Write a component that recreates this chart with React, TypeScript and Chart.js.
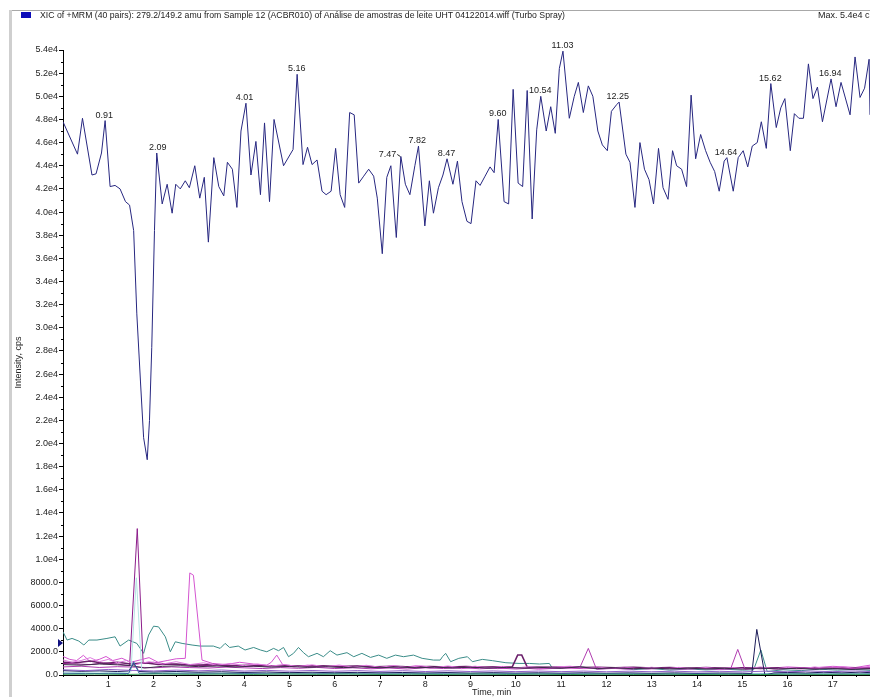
import React, { useEffect, useRef } from 'react';
import { Chart, registerables } from 'chart.js';

Chart.register(...registerables);

const TITLE = 'XIC of +MRM (40 pairs): 279.2/149.2 amu from Sample 12 (ACBR010) of Análise de amostras de leite UHT 04122014.wiff (Turbo Spray)';
const MAX_TEXT = 'Max. 5.4e4 cps.';
const X_TITLE = 'Time, min';
const Y_TITLE = 'Intensity, cps';
const FONT = '"Liberation Sans", Arial, sans-serif';

// [time (min), intensity (cps)]
const mainTrace: [number, number][] = [
  [0.00, 47800], [0.32, 45000], [0.43, 48100], [0.64, 43200], [0.73, 43300], [0.85, 45100], [0.93, 47900],
  [1.04, 42200], [1.15, 42300], [1.26, 42000], [1.38, 40900], [1.47, 40600], [1.56, 38400], [1.63, 31200],
  [1.71, 25400], [1.78, 20500], [1.86, 18600], [1.91, 22000], [1.96, 28300], [2.02, 38400], [2.07, 45100],
  [2.19, 40700], [2.30, 42400], [2.41, 39900], [2.49, 42400], [2.59, 42000], [2.70, 42700], [2.79, 42100],
  [2.91, 44000], [3.02, 41200], [3.12, 43000], [3.21, 37400], [3.33, 44700], [3.44, 42200], [3.55, 41400],
  [3.63, 44300], [3.74, 43700], [3.84, 40400], [3.93, 47000], [4.04, 49400], [4.15, 43200], [4.26, 46100],
  [4.36, 41500], [4.45, 47700], [4.56, 40900], [4.66, 48000], [4.87, 44000], [5.08, 45400], [5.17, 51900],
  [5.30, 44100], [5.40, 45600], [5.50, 44100], [5.61, 44500], [5.72, 41800], [5.81, 41500], [5.92, 41800],
  [6.02, 45500], [6.12, 41500], [6.22, 40400], [6.33, 48600], [6.43, 48400], [6.53, 42500], [6.64, 43100],
  [6.75, 43700], [6.86, 43100], [6.94, 41200], [7.05, 36400], [7.15, 43000], [7.24, 44000], [7.36, 37800],
  [7.46, 44800], [7.56, 42400], [7.66, 41500], [7.77, 44000], [7.85, 45700], [7.99, 38800], [8.09, 42700],
  [8.18, 39900], [8.29, 42100], [8.39, 43200], [8.48, 44600], [8.61, 42400], [8.71, 44400], [8.81, 40900],
  [8.92, 39200], [9.01, 39000], [9.12, 42700], [9.21, 42300], [9.32, 43100], [9.43, 43900], [9.52, 43400],
  [9.61, 48000], [9.74, 40900], [9.84, 40700], [9.94, 50600], [10.05, 42500], [10.15, 42200], [10.25, 50500],
  [10.36, 39400], [10.46, 47100], [10.55, 50000], [10.67, 47000], [10.77, 49100], [10.87, 46800], [10.96, 52400],
  [11.04, 53900], [11.18, 48100], [11.29, 50000], [11.38, 51200], [11.49, 48600], [11.60, 50900], [11.70, 50000],
  [11.81, 47000], [11.91, 45800], [12.02, 45300], [12.11, 48700], [12.23, 49300], [12.28, 49500], [12.43, 45000],
  [12.52, 44300], [12.63, 40400], [12.74, 46000], [12.84, 43700], [12.94, 42800], [13.04, 40700], [13.15, 45500],
  [13.25, 42100], [13.36, 41100], [13.46, 45300], [13.55, 44000], [13.66, 43700], [13.77, 42200], [13.87, 50100],
  [13.97, 44600], [14.08, 46700], [14.19, 45300], [14.29, 44300], [14.39, 43500], [14.49, 41800], [14.60, 44400],
  [14.66, 44700], [14.80, 41800], [14.91, 44700], [15.02, 45300], [15.12, 43900], [15.22, 45700], [15.33, 46000],
  [15.42, 47800], [15.53, 45500], [15.63, 51100], [15.75, 47300], [15.85, 49000], [15.94, 49800], [16.06, 45300],
  [16.15, 48500], [16.25, 48100], [16.35, 48100], [16.46, 52800], [16.56, 49800], [16.66, 50800], [16.77, 47800],
  [16.96, 51500], [17.07, 49100], [17.18, 51200], [17.38, 48400], [17.49, 53400], [17.60, 49900], [17.70, 50700],
  [17.80, 53200], [17.82, 48400],
];

const peakLabels = ['0.91', '2.09', '4.01', '5.16', '7.47', '7.82', '8.47', '9.60', '10.54', '11.03', '12.25', '14.64', '15.62', '16.94'];

const tealTrace: [number, number][] = [
  [0, 3730], [0.09, 3020], [0.2, 3160], [0.35, 2930], [0.46, 2590], [0.57, 3020], [0.75, 3020], [0.97, 3160],
  [1.15, 3300], [1.26, 2500], [1.45, 3020], [1.63, 2730], [1.78, 1870], [1.89, 3450], [2.0, 4220], [2.11, 4160],
  [2.26, 3300], [2.37, 2010], [2.48, 2870], [2.63, 2730], [2.85, 2590], [3.03, 2500], [3.32, 2500], [3.47, 2300],
  [3.58, 2730], [3.68, 2380], [3.87, 2500], [4.02, 2160], [4.21, 2380], [4.36, 2160], [4.5, 2010], [4.65, 2300],
  [4.76, 2100], [4.87, 2380], [4.98, 1580], [5.09, 1870], [5.2, 2380], [5.31, 1930], [5.42, 1580], [5.61, 1870],
  [5.75, 1580], [5.9, 2100], [6.05, 1720], [6.27, 1930], [6.42, 1580], [6.6, 1870], [6.79, 1520], [6.97, 1720],
  [7.15, 1440], [7.34, 1720], [7.52, 1580], [7.74, 1720], [7.93, 1440], [8.18, 1290], [8.33, 1290], [8.38, 1580],
  [8.45, 1870], [8.56, 1150], [8.74, 1440], [8.93, 1580], [9.04, 1150], [9.26, 1350], [9.48, 1240], [9.78, 1060],
  [10.07, 1000], [10.3, 1000], [10.52, 950], [10.74, 1000], [10.81, 570], [11.1, 650], [11.4, 720], [11.8, 520],
  [12.2, 600], [12.6, 460], [13.0, 560], [13.4, 420], [13.8, 520], [14.2, 440], [14.6, 500], [15.0, 420],
  [15.25, 450], [15.41, 2160], [15.55, 300], [15.9, 450], [16.3, 380], [16.7, 500], [17.1, 420], [17.5, 480], [17.82, 400],
];

const purplePeakTrace: [number, number][] = [
  [0, 1000], [0.3, 950], [0.6, 900], [0.9, 1050], [1.2, 950], [1.47, 800], [1.64, 12650], [1.77, 1000],
  [2.0, 1100], [2.3, 950], [2.6, 900], [2.9, 850], [3.3, 800], [3.7, 850], [4.1, 780], [4.5, 820], [5.0, 750],
  [5.5, 800], [6.0, 720], [6.5, 760], [7.0, 700], [7.5, 740], [8.0, 680], [8.5, 720], [9.0, 650], [9.5, 700],
  [10.0, 640], [10.5, 680], [11.0, 620], [11.5, 660], [12.0, 600], [12.5, 640], [13.0, 580], [13.5, 620],
  [14.0, 560], [14.5, 600], [15.0, 580], [15.5, 620], [16.0, 560], [16.5, 600], [17.0, 580], [17.5, 620], [17.82, 600],
];

const pinkTrace: [number, number][] = [
  [0, 1600], [0.15, 1350], [0.3, 1250], [0.45, 1700], [0.6, 1150], [0.8, 1350], [0.95, 1600], [1.1, 1250],
  [1.3, 1450], [1.5, 1100], [1.7, 1300], [1.9, 1500], [2.1, 1100], [2.3, 1250], [2.5, 1400], [2.7, 1440],
  [2.8, 8820], [2.88, 8620], [3.07, 1290], [3.3, 1000], [3.6, 900], [3.9, 1100], [4.2, 950], [4.5, 850],
  [4.6, 1100], [4.72, 1720], [4.85, 900], [5.1, 700], [5.4, 850], [5.7, 650], [6.0, 800], [6.3, 650], [6.6, 750],
  [6.9, 600], [7.2, 750], [7.5, 650], [7.8, 800], [8.1, 600], [8.4, 700], [8.8, 550], [9.2, 700], [9.6, 550],
  [10.0, 650], [10.5, 500], [11.0, 600], [11.5, 550], [12.0, 600], [12.5, 500], [13.0, 650], [13.5, 550],
  [14.0, 600], [14.5, 500], [15.0, 650], [15.5, 550], [16.0, 700], [16.5, 600], [17.0, 750], [17.5, 650], [17.82, 850],
];

const orchidTrace: [number, number][] = [
  [0, 1300], [0.2, 1100], [0.4, 1250], [0.6, 1500], [0.8, 1150], [1.0, 1350], [1.2, 1050], [1.4, 1250],
  [1.6, 900], [1.9, 1150], [2.2, 950], [2.5, 1150], [2.8, 900], [3.1, 1050], [3.4, 850], [3.7, 1000],
  [4.0, 800], [4.3, 950], [4.6, 780], [4.9, 900], [5.2, 720], [5.5, 880], [5.8, 700], [6.1, 860], [6.4, 680],
  [6.7, 840], [7.0, 660], [7.3, 820], [7.6, 650], [7.9, 800], [8.2, 640], [8.5, 780], [8.8, 620], [9.1, 760],
  [9.4, 600], [9.7, 740], [10.0, 600], [10.3, 720], [10.6, 580], [10.9, 700], [11.2, 760], [11.5, 600],
  [11.8, 690], [12.1, 560], [12.4, 680], [12.7, 540], [13.0, 670], [13.3, 520], [13.6, 660], [13.9, 520],
  [14.2, 650], [14.5, 510], [14.8, 640], [15.1, 500], [15.4, 700], [15.7, 520], [16.0, 660], [16.3, 520],
  [16.6, 700], [16.9, 540], [17.2, 720], [17.5, 560], [17.82, 760],
];

const lightCyanTrace: [number, number][] = [
  [0, 250], [0.4, 220], [0.8, 260], [1.2, 210], [1.5, 260], [1.62, 8400], [1.74, 280], [2.1, 200], [2.6, 230],
  [3.2, 180], [3.8, 200], [4.4, 170], [5.0, 190], [6.0, 160], [7.0, 180], [8.0, 150], [9.0, 170], [10.0, 140],
  [11.0, 160], [12.0, 130], [13.0, 150], [14.0, 130], [15.0, 150], [16.0, 130], [17.0, 150], [17.82, 140],
];

const navyTrace: [number, number][] = [
  [0, 380], [0.4, 320], [0.8, 360], [1.2, 300], [1.45, 350], [1.56, 1000], [1.68, 300], [2.0, 260], [2.5, 300],
  [3.0, 240], [3.5, 280], [4.0, 220], [4.5, 260], [5.0, 200], [5.5, 240], [6.0, 190], [6.5, 230], [7.0, 180],
  [7.5, 220], [8.0, 170], [8.5, 210], [9.0, 160], [9.5, 200], [10.0, 160], [10.5, 190], [11.0, 150], [11.5, 190],
  [12.0, 150], [12.5, 180], [13.0, 140], [13.5, 180], [14.0, 140], [14.5, 170], [15.0, 150], [15.21, 120],
  [15.32, 3940], [15.5, 0], [15.7, 180], [16.0, 220], [16.4, 170], [16.8, 240], [17.2, 180], [17.6, 250], [17.82, 200],
];

const steelTrace: [number, number][] = [
  [0, 150], [0.5, 120], [1.0, 140], [1.45, 130], [1.56, 1150], [1.68, 150], [2.2, 120], [3, 100], [4, 120],
  [5, 90], [6, 110], [7, 90], [8, 100], [9, 80], [10, 100], [11, 80], [12, 90], [13, 70], [14, 90], [15, 70],
  [16, 90], [17, 80], [17.82, 90],
];

const magentaTrace: [number, number][] = [
  [0, 700], [0.4, 760], [0.8, 650], [1.2, 720], [1.6, 680], [2.0, 620], [2.4, 700], [2.8, 640], [3.2, 600],
  [3.6, 680], [4.0, 620], [4.4, 560], [4.8, 640], [5.2, 580], [5.6, 660], [6.0, 560], [6.4, 620], [6.8, 540],
  [7.2, 600], [7.6, 520], [8.0, 620], [8.4, 560], [8.8, 640], [9.2, 540], [9.6, 600], [10.0, 520], [10.4, 600],
  [10.8, 560], [11.1, 650], [11.42, 700], [11.6, 2300], [11.78, 500], [12.1, 560], [12.5, 620], [12.9, 520],
  [13.3, 580], [13.7, 500], [14.1, 560], [14.5, 520], [14.74, 500], [14.9, 2210], [15.06, 500], [15.4, 580],
  [15.8, 520], [16.2, 600], [16.6, 540], [17.0, 620], [17.4, 560], [17.82, 640],
];

const darkPurpleTrace: [number, number][] = [
  [0, 1100], [0.3, 1050], [0.6, 1200], [0.9, 1000], [1.2, 1100], [1.5, 950], [1.8, 1050], [2.1, 900], [2.5, 950],
  [2.9, 850], [3.3, 900], [3.7, 800], [4.1, 850], [4.5, 780], [4.9, 820], [5.3, 760], [5.7, 800], [6.1, 740],
  [6.5, 780], [6.9, 720], [7.3, 760], [7.7, 700], [8.1, 740], [8.5, 690], [8.9, 730], [9.3, 680], [9.7, 720],
  [9.92, 700], [10.04, 1720], [10.13, 1720], [10.25, 700], [10.6, 660], [11.0, 700], [11.4, 640], [11.8, 680],
  [12.2, 620], [12.6, 660], [13.0, 600], [13.4, 650], [13.8, 590], [14.2, 640], [14.6, 580], [15.0, 630],
  [15.4, 570], [15.8, 620], [16.2, 560], [16.6, 610], [17.0, 560], [17.4, 600], [17.82, 570],
];

const greenTrace: [number, number][] = [
  [0, 60], [0.7, 80], [1.4, 50], [2.1, 90], [2.8, 60], [3.5, 80], [4.2, 50], [4.9, 90], [5.6, 60], [6.3, 80],
  [7.0, 50], [7.7, 70], [8.4, 50], [9.1, 80], [9.8, 50], [10.5, 70], [11.2, 40], [11.9, 70], [12.6, 50],
  [13.3, 70], [14.0, 40], [14.7, 60], [15.4, 40], [16.1, 70], [16.8, 50], [17.5, 60], [17.82, 50],
];

const violetTrace: [number, number][] = [
  [0, 450], [0.5, 380], [1.0, 480], [1.5, 400], [2.0, 350], [2.5, 420], [3.0, 360], [3.5, 430], [4.0, 340],
  [4.5, 400], [5.0, 330], [5.5, 390], [6.0, 320], [6.5, 380], [7.0, 310], [7.5, 370], [8.0, 300], [8.5, 360],
  [9.0, 300], [9.5, 350], [10.0, 290], [10.5, 340], [11.0, 290], [11.5, 340], [12.0, 280], [12.5, 330],
  [13.0, 280], [13.5, 330], [14.0, 270], [14.5, 320], [15.0, 270], [15.5, 330], [16.0, 280], [16.5, 340],
  [17.0, 290], [17.5, 350], [17.82, 300],
];

const darkGrayTrace: [number, number][] = [
  [0, 900], [0.4, 850], [0.8, 950], [1.2, 880], [1.5, 820], [1.8, 600], [2.2, 750], [2.6, 800], [3.0, 720],
  [3.4, 780], [3.8, 700], [4.2, 760], [4.6, 680], [5.0, 740], [5.4, 660], [5.8, 720], [6.2, 640], [6.6, 700],
  [7.0, 630], [7.4, 690], [7.8, 620], [8.2, 680], [8.6, 610], [9.0, 670], [9.4, 600], [9.8, 660], [10.2, 590],
  [10.6, 650], [11.0, 580], [11.4, 700], [11.8, 560], [12.2, 620], [12.6, 540], [13.0, 600], [13.4, 530],
  [13.8, 590], [14.2, 520], [14.6, 580], [15.0, 510], [15.4, 600], [15.8, 520], [16.2, 580], [16.6, 500],
  [17.0, 560], [17.4, 480], [17.82, 540],
];

const X_MAX = 17.82;
const Y_MAX = 54000;

const toPts = (arr: [number, number][]) => arr.map(([x, y]) => ({ x, y }));

const peakLabelPlugin = {
  id: 'peakLabels',
  afterDatasetsDraw(chart: any) {
    const { ctx, scales } = chart;
    const xs = scales.x;
    const ys = scales.y;
    ctx.save();
    ctx.font = `9px ${FONT}`;
    ctx.fillStyle = '#222';
    ctx.strokeStyle = '#222';
    ctx.lineWidth = 1;
    ctx.textBaseline = 'bottom';
    const items = peakLabels
      .map((lbl) => {
        const t = parseFloat(lbl);
        let best = -Infinity;
        for (const [tx, v] of mainTrace) if (Math.abs(tx - t) <= 0.08 && v > best) best = v;
        return { lbl, px: xs.getPixelForValue(t), py: ys.getPixelForValue(best), w: ctx.measureText(lbl).width, ok: best > -Infinity };
      })
      .filter((it) => it.ok);
    items.forEach((it, i) => {
      const next = items[i + 1];
      const right = it.px + it.w / 2;
      const overlapY = next ? Math.abs(next.py - it.py) < 12 : false;
      if (next && overlapY && right > next.px - next.w / 2 + 1) {
        ctx.textAlign = 'right';
        ctx.fillText(it.lbl, it.px - 5, it.py + 3);
        ctx.beginPath();
        ctx.moveTo(it.px - 4, it.py - 2);
        ctx.lineTo(it.px - 1, it.py);
        ctx.stroke();
      } else {
        ctx.textAlign = 'center';
        ctx.fillText(it.lbl, it.px, it.py - 1);
      }
    });
    ctx.restore();
  },
};

// short minor tick marks for ticks without a label
const minorTickPlugin = {
  id: 'minorTicks',
  afterDraw(chart: any) {
    const { ctx, scales, chartArea } = chart;
    ctx.save();
    ctx.strokeStyle = '#000';
    ctx.lineWidth = 1;
    ctx.beginPath();
    for (const t of scales.x.ticks) {
      if (t.label !== '') continue;
      const px = Math.round(scales.x.getPixelForValue(t.value)) + 0.5;
      ctx.moveTo(px, chartArea.bottom);
      ctx.lineTo(px, chartArea.bottom + 2);
    }
    for (const t of scales.y.ticks) {
      if (t.label !== '') continue;
      const py = Math.round(scales.y.getPixelForValue(t.value)) + 0.5;
      ctx.moveTo(chartArea.left, py);
      ctx.lineTo(chartArea.left - 2, py);
    }
    ctx.stroke();
    ctx.restore();
  },
};

export default function App() {
  const ref = useRef<HTMLCanvasElement | null>(null);

  useEffect(() => {
    document.body.style.margin = '0';
    if (!ref.current) return;
    const line = (data: [number, number][], color: string, width = 1) => ({
      data: toPts(data),
      borderColor: color,
      backgroundColor: color,
      borderWidth: width,
      pointRadius: 0,
      tension: 0,
      fill: false,
    });
    const majorTickColor = (c: any) => (c.tick && c.tick.label !== '' ? '#000' : 'rgba(0,0,0,0)');
    const chart = new Chart(ref.current, {
      type: 'line',
      data: {
        datasets: [
          line(greenTrace, '#2f9a55'),
          line(steelTrace, '#3a68a8'),
          line(violetTrace, '#9060c8'),
          line(navyTrace, '#1c1c58'),
          line(lightCyanTrace, '#b4e4e4'),
          line(darkGrayTrace, '#3c2a48'),
          line(magentaTrace, '#b03cb0'),
          line(orchidTrace, '#e07ae0'),
          line(darkPurpleTrace, '#6b1f6b', 1.5),
          line(pinkTrace, '#d455d0'),
          line(purplePeakTrace, '#8c1c8a'),
          line(tealTrace, '#3a8c88'),
          line(mainTrace, '#272780'),
        ],
      },
      options: {
        responsive: false,
        devicePixelRatio: 1,
        animation: false,
        events: [],
        layout: { padding: { top: 50, right: 0, bottom: 0, left: 0 } },
        plugins: { legend: { display: false }, tooltip: { enabled: false }, title: { display: false } },
        scales: {
          x: {
            type: 'linear',
            position: 'bottom',
            min: 0,
            max: X_MAX,
            afterFit: (s: any) => { s.height = 22; },
            ticks: {
              stepSize: 0.5,
              includeBounds: false,
              autoSkip: false,
              maxRotation: 0,
              padding: 0,
              color: '#222',
              font: { family: FONT, size: 9 },
              callback: (v: any) => (Number(v) % 1 === 0 && Number(v) > 0 ? String(v) : ''),
            },
            grid: { drawOnChartArea: false, drawTicks: true, tickLength: 4, color: majorTickColor, tickColor: majorTickColor },
            border: { display: true, color: '#000', width: 1 },
          },
          y: {
            type: 'linear',
            min: 0,
            max: Y_MAX,
            afterFit: (s: any) => { s.width = 63; },
            ticks: {
              stepSize: 1000,
              autoSkip: false,
              padding: 1,
              color: '#222',
              font: { family: FONT, size: 9 },
              callback: (v: any) => {
                const n = Number(v);
                if (n % 2000 !== 0) return '';
                return n >= 10000 ? (n / 10000).toFixed(1) + 'e4' : n.toFixed(1);
              },
            },
            title: { display: true, text: Y_TITLE, color: '#222', font: { family: FONT, size: 9 }, padding: { top: 13, bottom: 0 } },
            grid: { drawOnChartArea: false, drawTicks: true, tickLength: 4, color: majorTickColor, tickColor: majorTickColor },
            border: { display: true, color: '#000', width: 1 },
          },
        },
      },
      plugins: [peakLabelPlugin, minorTickPlugin],
    } as any);
    return () => chart.destroy();
  }, []);

  return (
    <div style={{ position: 'absolute', left: 0, top: 0, width: 870, height: 697, overflow: 'hidden', background: '#fff', fontFamily: FONT }}>
      <canvas ref={ref} width={870} height={697} style={{ position: 'absolute', left: 0, top: 0, display: 'block' }} />
      <div style={{ position: 'absolute', left: 10, top: 10, width: 860, height: 1, background: '#a8a8a8' }} />
      <div style={{ position: 'absolute', left: 9, top: 10, width: 3, height: 687, background: '#cfcfcf' }} />
      <div style={{ position: 'absolute', left: 21, top: 12, width: 10, height: 6, background: '#0c0cb8' }} />
      <div style={{ position: 'absolute', left: 40, top: 9, fontSize: 8.7, lineHeight: '12px', color: '#222', whiteSpace: 'nowrap' }}>{TITLE}</div>
      <div style={{ position: 'absolute', left: 818, top: 9, fontSize: 9, lineHeight: '12px', color: '#222', whiteSpace: 'nowrap' }}>{MAX_TEXT}</div>
      <div style={{ position: 'absolute', left: 472, top: 686, fontSize: 9, lineHeight: '12px', color: '#222', whiteSpace: 'nowrap' }}>{X_TITLE}</div>
      <div style={{ position: 'absolute', left: 58, top: 639, width: 0, height: 0, borderTop: '4px solid transparent', borderBottom: '4px solid transparent', borderLeft: '5px solid #101080' }} />
    </div>
  );
}
